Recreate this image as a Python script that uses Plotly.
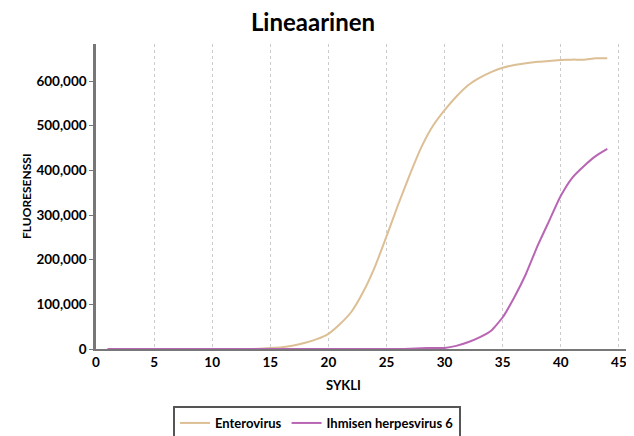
import plotly.graph_objects as go

cycles = list(range(1, 45))
enterovirus = [0]*13 + [500, 2000, 4000, 8000, 14000, 22000, 34000, 56000, 84000, 128000, 184000,
               252000, 323000, 390000, 452000, 500000, 535000, 565000, 590000, 607000, 620000,
               630000, 636000, 640000, 643000, 645000, 647000, 648000, 648000, 651000, 651000]
herpes = [0]*26 + [500, 1500, 2500, 2500, 7000, 15000, 26000, 41000, 71000, 116000, 168000, 231000,
                   287000, 343000, 384000, 410000, 432000, 448000]

names = ["Enterovirus", "Ihmisen herpesvirus 6"]
colors = ["#dcbf95", "#b866b3"]
x_ticks = list(range(0, 50, 5))
y_ticks = [0, 100000, 200000, 300000, 400000, 500000, 600000]
y_tick_labels = ["0", "100,000", "200,000", "300,000", "400,000", "500,000", "600,000"]

# page body has an 8px default margin, so the figure is sized and placed to compensate
W, H, OFF = 626, 428, 8

fig = go.Figure()
for name, ys, c in zip(names, [enterovirus, herpes], colors):
    fig.add_trace(go.Scatter(x=cycles, y=ys, mode="lines", name=f"<b>{name}</b>",
                             line=dict(color=c, width=2, shape="spline", smoothing=0.5)))

font = "Lato, 'DejaVu Sans', sans-serif"
fig.update_layout(
    width=W, height=H,
    margin=dict(l=96 - OFF, r=0, t=44 - OFF, b=436 - 349, autoexpand=False),
    paper_bgcolor="white", plot_bgcolor="white",
    font=dict(family=font, color="#111111"),
    title=dict(text="<b>Lineaarinen</b>", x=(313 - OFF) / W, xref="container", xanchor="center",
               y=1 - 6 / H, yref="container", yanchor="top",
               font=dict(size=24, family=font, color="#000")),
    showlegend=True,
    legend=dict(orientation="h", x=(317 - OFF) / W, xref="container", xanchor="center",
                y=(436 - 406) / H, yref="container", yanchor="top",
                bordercolor="#555555", borderwidth=2, font=dict(size=13, family=font, color="#000"),
                itemwidth=30, tracegroupgap=0),
    annotations=[
        dict(text="<b>SYKLI</b>", x=(343 - 96) / 538, xref="paper", y=(349 - 375) / 305, yref="paper",
             yanchor="top", showarrow=False, font=dict(size=13, family=font, color="#000")),
        dict(text="<b>FLUORESENSSI</b>", x=(17 - 96) / 538, xref="paper", y=0.5, yref="paper",
             textangle=-90, showarrow=False, font=dict(size=12, family=font, color="#000")),
    ],
)
fig.update_xaxes(range=[0, 46.3], tickvals=x_ticks, ticktext=[f"<b>{t}</b>" for t in x_ticks],
                 showgrid=True, gridcolor="#cccccc", automargin=False,
                 griddash="dot", gridwidth=1, showline=True, linecolor="#777777", linewidth=2,
                 ticks="", zeroline=False, tickfont=dict(size=13.5, family=font, color="#000"))
fig.update_yaxes(range=[0, 683000], tickvals=y_ticks, ticktext=[f"<b>{t}</b>" for t in y_tick_labels],
                 showgrid=False, showline=True, linecolor="#777777", linewidth=2.5, automargin=False,
                 ticks="outside", ticklen=4, tickcolor="#777777", zeroline=False,
                 tickfont=dict(size=13.5, family=font, color="#000"))
fig.write_html("out.html")
